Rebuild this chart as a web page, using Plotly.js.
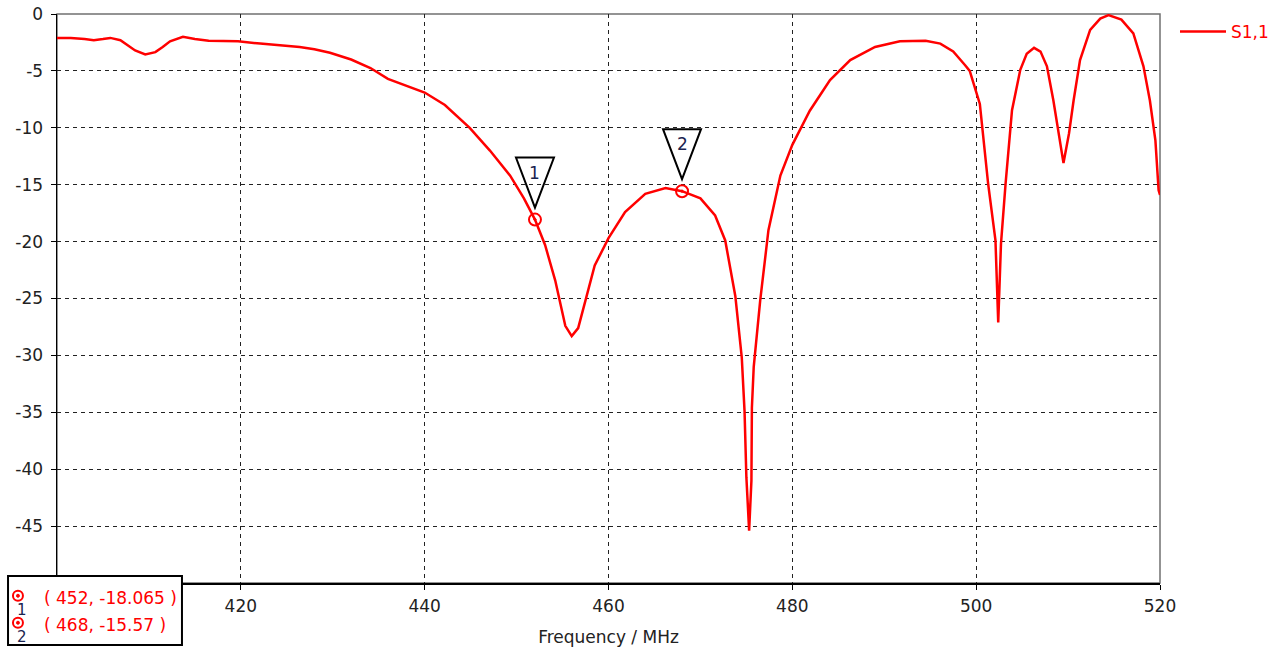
<!DOCTYPE html>
<html>
<head>
<meta charset="utf-8">
<script src="https://cdn.plot.ly/plotly-3.0.1.min.js"></script>
<style>
html,body{margin:0;padding:0;background:#fff;}
#chart{width:1279px;height:651px;}
</style>
</head>
<body>
<div id="chart"></div>
<script>
// ---- data ----
const freqMHz = [400,401.5,403,404,405,405.8,406.9,407.8,408.5,409.6,410.7,411.5,412.3,413.7,415,416.5,418,419.7,422.1,424,426.4,428,429.7,432,434.1,436,437.3,438.8,440,442.2,444.9,447.1,449.3,450.8,452,453.1,454.2,455.3,456.0,456.7,457.5,458.5,460,461.8,464,466.2,468,470,471.6,472.7,473.8,474.5,474.8,475.0,475.3,475.55,475.6,475.8,476.5,477.4,478.7,480,481.9,484.1,486.3,489,491.7,494.5,496.1,497.5,498.8,499.3,500.4,501.3,502.1,502.4,502.7,503.2,503.9,504.8,505.5,506.3,507.0,507.7,508.4,509.0,509.5,510.1,510.6,511.3,512.4,513.5,514.4,515.8,517.1,518.2,518.9,519.5,519.85,520];
const s11dB = [-2.1,-2.1,-2.2,-2.3,-2.2,-2.1,-2.3,-2.8,-3.2,-3.55,-3.35,-2.9,-2.4,-2.0,-2.2,-2.35,-2.35,-2.4,-2.6,-2.75,-2.9,-3.1,-3.4,-4.0,-4.75,-5.7,-6.1,-6.5,-6.9,-8.0,-10.0,-12.0,-14.2,-16.2,-18.065,-20.3,-23.4,-27.4,-28.3,-27.6,-25.2,-22.1,-19.7,-17.4,-15.8,-15.3,-15.57,-16.2,-17.7,-19.9,-24.8,-30.2,-34.9,-40.7,-45.4,-41.0,-34.6,-31.0,-25.2,-19.0,-14.2,-11.5,-8.5,-5.8,-4.05,-2.9,-2.4,-2.35,-2.6,-3.3,-4.5,-5.0,-7.9,-14.9,-19.9,-27.1,-20.2,-14.9,-8.45,-4.9,-3.5,-2.97,-3.3,-4.6,-7.6,-10.5,-13.1,-10.5,-7.6,-4.05,-1.4,-0.4,-0.1,-0.5,-1.7,-4.6,-7.6,-11.1,-15.5,-15.9];
const seriesName = "S1,1";
const markerIds = ["1","2"];
const markerX = [452, 468];
const markerY = [-18.065, -15.57];
// tick positions; labels hidden behind the readout box are left blank as in the reference
const xTicks = [400,420,440,460,480,500,520];
const xTickLabels = ["","420","440","460","480","500","520"];
const yTicks = [0,-5,-10,-15,-20,-25,-30,-35,-40,-45,-50];
const yTickLabels = ["0","-5","-10","-15","-20","-25","-30","-35","-40","-45",""];
const xTitle = "Frequency / MHz";

// ---- chart ----
const FONT = "DejaVu Sans, Verdana, sans-serif";
const RED = "#ff0000";
const NAVY = "#1b2450";
const FS = 17;

const traces = [
  {x: freqMHz, y: s11dB, type: "scatter", mode: "lines", name: seriesName,
   line: {color: RED, width: 2.5}, hoverinfo: "x+y"},
  {x: markerX, y: markerY, type: "scatter", mode: "markers", showlegend: false,
   marker: {symbol: "circle-open-dot", size: 12, color: RED, line: {width: 2, color: RED}},
   hoverinfo: "x+y"}
];

const shapes = [
  {type: "rect", xref: "paper", yref: "paper", x0: 0, x1: 1, y0: 0, y1: 1,
   line: {color: "#707070", width: 1.5}, layer: "below"}
];
markerX.forEach((mx, i) => {
  shapes.push({type: "path", xref: "x", yref: "y", xsizemode: "pixel", ysizemode: "pixel",
    xanchor: mx, yanchor: markerY[i], path: "M -19 62 L 19 62 L 0 12 Z",
    line: {color: "#000", width: 2}, fillcolor: "rgba(255,255,255,0)", layer: "above"});
});
// marker readout box
shapes.push({type: "rect", xref: "paper", yref: "paper",
  x0: -0.0444, x1: 0.1133, y0: 0.0123, y1: -0.109,
  line: {color: "#000", width: 2}, fillcolor: "#fff", layer: "above"});
const rowY = [-0.0264, -0.0738];
// readout marker symbols (circle with dot)
markerX.forEach((mx, i) => {
  shapes.push({type: "circle", xref: "paper", yref: "paper", xsizemode: "pixel", ysizemode: "pixel",
    xanchor: -0.0354, yanchor: rowY[i] + 0.004, x0: -5, x1: 5, y0: -5, y1: 5,
    line: {color: RED, width: 2}, fillcolor: "rgba(0,0,0,0)", layer: "above"});
  shapes.push({type: "circle", xref: "paper", yref: "paper", xsizemode: "pixel", ysizemode: "pixel",
    xanchor: -0.0354, yanchor: rowY[i] + 0.004, x0: -1.5, x1: 1.5, y0: -1.5, y1: 1.5,
    line: {color: RED, width: 1}, fillcolor: RED, layer: "above"});
});

const annotations = [];
markerX.forEach((mx, i) => {
  annotations.push({x: mx, y: markerY[i], xref: "x", yref: "y", text: markerIds[i],
    showarrow: false, yshift: 47, font: {family: FONT, size: 17, color: NAVY}});
});
markerX.forEach((mx, i) => {
  annotations.push({xref: "paper", yref: "paper", x: -0.0318, y: rowY[i] - 0.021, text: markerIds[i],
    showarrow: false, font: {family: FONT, size: 15, color: NAVY}, xanchor: "center", yanchor: "middle"});
  annotations.push({xref: "paper", yref: "paper", x: -0.0135, y: rowY[i],
    text: "( " + mx + ", " + markerY[i] + " )",
    showarrow: false, font: {family: FONT, size: FS, color: RED}, xanchor: "left", yanchor: "middle"});
});

const layout = {
  width: 1279, height: 651,
  margin: {l: 57, r: 119, t: 14, b: 68, pad: 0, autoexpand: false},
  paper_bgcolor: "#fff", plot_bgcolor: "#fff",
  font: {family: FONT, size: FS, color: "#222"},
  showlegend: true,
  legend: {x: 1.0136, y: 1.0, xanchor: "left", yanchor: "top", bgcolor: "rgba(0,0,0,0)",
           itemwidth: 46, font: {family: FONT, size: FS, color: RED}},
  xaxis: {range: [400, 520], tickvals: xTicks, ticktext: xTickLabels, automargin: false,
          showgrid: true, gridcolor: "#222", gridwidth: 1, griddash: "4px,4px",
          showline: true, linecolor: "#000", linewidth: 1.5, ticks: "outside", ticklen: 5, tickcolor: "#000",
          ticklabelstandoff: 2,
          zeroline: false, tickfont: {family: FONT, size: FS, color: "#222"},
          title: {text: xTitle, font: {family: FONT, size: FS, color: "#222"}, standoff: 16}},
  yaxis: {range: [-50, 0], tickvals: yTicks, ticktext: yTickLabels, automargin: false,
          showgrid: true, gridcolor: "#222", gridwidth: 1, griddash: "4px,4px",
          showline: true, linecolor: "#000", linewidth: 1.5, ticks: "outside", ticklen: 5, tickcolor: "#000",
          ticklabelstandoff: 4,
          zeroline: false, tickfont: {family: FONT, size: FS, color: "#222"}},
  shapes: shapes,
  annotations: annotations
};

Plotly.newPlot("chart", traces, layout, {displayModeBar: false, staticPlot: true});
</script>
</body>
</html>
